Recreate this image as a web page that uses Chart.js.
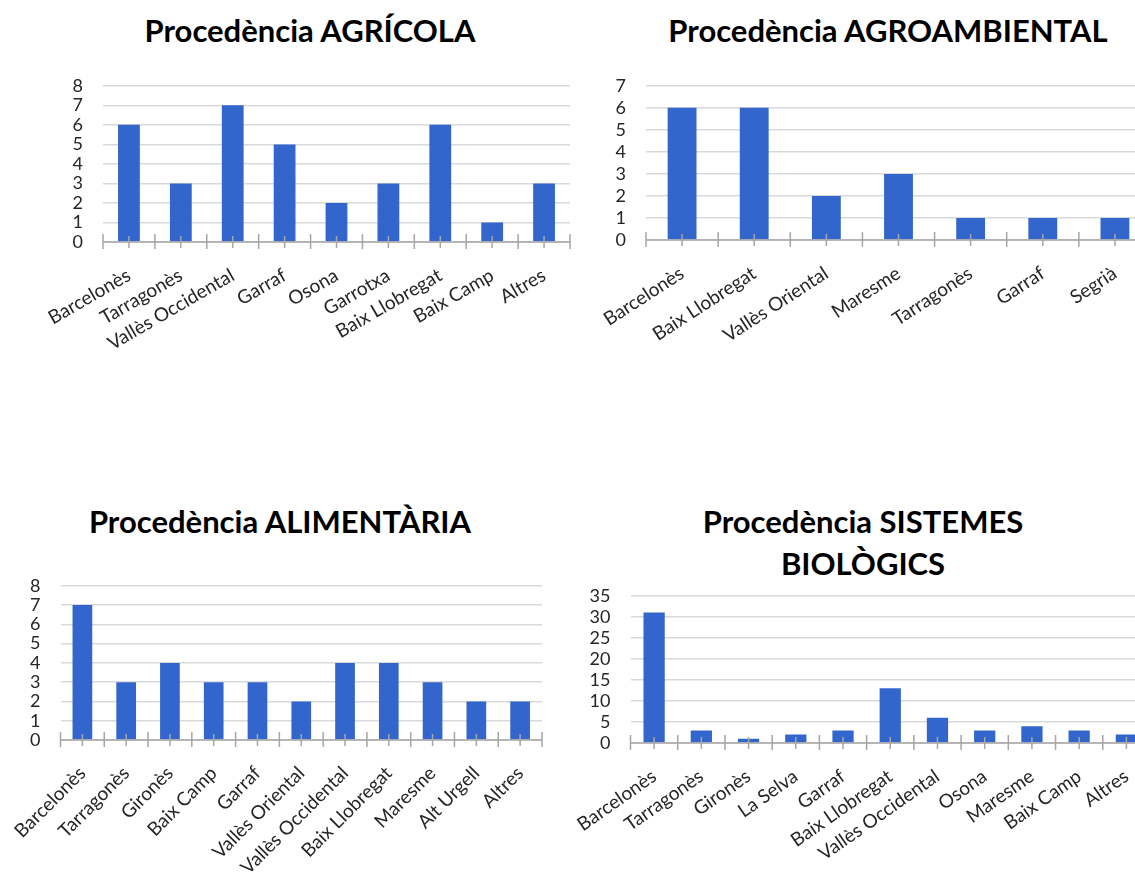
<!DOCTYPE html>
<html>
<head>
<meta charset="utf-8">
<script src="https://cdn.jsdelivr.net/npm/chart.js@4.4.1/dist/chart.umd.min.js"></script>
<style>
  html, body { margin: 0; padding: 0; background: #fff; overflow: hidden; width: 1135px; height: 873px; }
  .title { position: absolute; transform: translateX(-50%); white-space: nowrap; text-align: center;
           font-family: Lato, 'Open Sans', sans-serif; font-weight: bold; font-size: 31px; line-height: 42px; color: #000; }
  canvas { position: absolute; }
</style>
</head>
<body>
<div class="title" style="left:310px; top:9px;">Procedència AGRÍCOLA</div>
<div class="title" style="left:888px; top:9px;">Procedència AGROAMBIENTAL</div>
<div class="title" style="left:280px; top:500px;">Procedència ALIMENTÀRIA</div>
<div class="title" style="left:863px; top:500px;">Procedència SISTEMES<br>BIOLÒGICS</div>

<canvas id="c1" width="585" height="300" style="left:0px; top:55px;"></canvas>
<canvas id="c2" width="590" height="300" style="left:575px; top:55px;"></canvas>
<canvas id="c3" width="560" height="318" style="left:0px; top:555px;"></canvas>
<canvas id="c4" width="610" height="308" style="left:550px; top:565px;"></canvas>

<script>
const agricolaLabels = ['Barcelonès', 'Tarragonès', 'Vallès Occidental', 'Garraf', 'Osona', 'Garrotxa', 'Baix Llobregat', 'Baix Camp', 'Altres'];
const agricolaValues = [6, 3, 7, 5, 2, 3, 6, 1, 3];

const agroLabels = ['Barcelonès', 'Baix Llobregat', 'Vallès Oriental', 'Maresme', 'Tarragonès', 'Garraf', 'Segrià'];
const agroValues = [6, 6, 2, 3, 1, 1, 1];

const alimLabels = ['Barcelonès', 'Tarragonès', 'Gironès', 'Baix Camp', 'Garraf', 'Vallès Oriental', 'Vallès Occidental', 'Baix Llobregat', 'Maresme', 'Alt Urgell', 'Altres'];
const alimValues = [7, 3, 4, 3, 3, 2, 4, 4, 3, 2, 2];

const sistLabels = ['Barcelonès', 'Tarragonès', 'Gironès', 'La Selva', 'Garraf', 'Baix Llobregat', 'Vallès Occidental', 'Osona', 'Maresme', 'Baix Camp', 'Altres'];
const sistValues = [31, 3, 1, 2, 3, 13, 6, 3, 4, 3, 2];

const BAR_COLOR = '#3366cc';
const TEXT_COLOR = '#262626';
const FONT = 'Lato, "Open Sans", sans-serif';

// axis line plus the small tick marks (category edges and centres) crossing it
const axisTicks = {
  id: 'axisTicks',
  afterDraw(chart) {
    const x = chart.scales.x;
    const ctx = chart.ctx;
    const y0 = chart.chartArea.bottom;
    const n = chart.data.labels.length;
    const w = (x.right - x.left) / n;
    ctx.save();
    ctx.strokeStyle = '#a6a6a6';
    ctx.lineWidth = 1.5;
    ctx.beginPath();
    ctx.moveTo(x.left, y0);
    ctx.lineTo(x.right, y0);
    for (let i = 0; i < n; i++) {
      const c = x.getPixelForValue(i);
      ctx.moveTo(c, y0 - 6);
      ctx.lineTo(c, y0 + 6);
      ctx.moveTo(c - w / 2, y0 - 8);
      ctx.lineTo(c - w / 2, y0 + 7);
    }
    ctx.moveTo(x.right, y0 - 8);
    ctx.lineTo(x.right, y0 + 7);
    ctx.stroke();
    ctx.restore();
  }
};

function makeChart(id, labels, values, opts) {
  const ctx = document.getElementById(id).getContext('2d');
  return new Chart(ctx, {
    type: 'bar',
    data: {
      labels: labels,
      datasets: [{
        data: values,
        backgroundColor: BAR_COLOR,
        borderWidth: 0,
        barPercentage: opts.barPct,
        categoryPercentage: 1,
      }],
    },
    options: {
      responsive: false,
      animation: false,
      layout: { padding: { top: opts.padTop, right: opts.padRight, left: 0, bottom: 0 } },
      plugins: {
        legend: { display: false },
        title: { display: false },
        tooltip: { enabled: false },
      },
      scales: {
        x: {
          grid: { display: false },
          border: { display: false },
          afterFit: (scale) => { scale.height = opts.xHeight; },
          ticks: {
            autoSkip: false,
            minRotation: opts.rot,
            maxRotation: opts.rot,
            padding: 14,
            color: TEXT_COLOR,
            font: { family: FONT, size: 19 },
          },
        },
        y: {
          min: 0,
          max: opts.max,
          grid: { color: '#d9d9d9', lineWidth: 1.5, drawTicks: false },
          border: { display: false },
          afterFit: (scale) => { scale.width = opts.yWidth; },
          ticks: {
            autoSkip: false,
            stepSize: opts.step,
            padding: 20,
            color: TEXT_COLOR,
            font: { family: FONT, size: 18 },
          },
        },
      },
    },
    plugins: [axisTicks],
  });
}

makeChart('c1', agricolaLabels, agricolaValues, { max: 8, step: 1, barPct: 0.42, rot: 30, padTop: 20, padRight: 15, yWidth: 103, xHeight: 113 });
makeChart('c2', agroLabels, agroValues, { max: 7, step: 1, barPct: 0.40, rot: 33, padTop: 22, padRight: 14, yWidth: 71, xHeight: 115 });
makeChart('c3', alimLabels, alimValues, { max: 8, step: 1, barPct: 0.45, rot: 45, padTop: 18, padRight: 18, yWidth: 60.5, xHeight: 133 });
makeChart('c4', sistLabels, sistValues, { max: 35, step: 5, barPct: 0.45, rot: 35, padTop: 18, padRight: 10, yWidth: 80.5, xHeight: 130 });
</script>
</body>
</html>
